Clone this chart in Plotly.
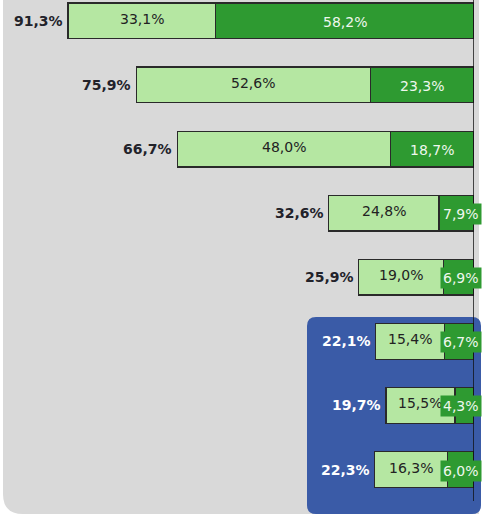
import plotly.graph_objects as go

# Data (top to bottom)
totals = [91.3, 75.9, 66.7, 32.6, 25.9, 22.1, 19.7, 22.3]
light_vals = [33.1, 52.6, 48.0, 24.8, 19.0, 15.4, 15.5, 16.3]
dark_vals = [58.2, 23.3, 18.7, 7.9, 6.9, 6.7, 4.3, 6.0]
highlighted = [False, False, False, False, False, True, True, True]

def fmt(v):
    return f"{v:.1f}".replace(".", ",") + "%"

W, H = 493, 517
PLOT_W = 474
px_per_unit = 406 / 91.3
row0, row_step = 20.8, 64.1

y_pos = list(range(len(totals)))

LIGHT = "#b5e7a2"
DARK = "#2e9a31"
GREY = "#d9d9d9"
BLUE = "#3a5ba7"
FONT = "DejaVu Sans, Verdana, sans-serif"

fig = go.Figure()
fig.add_trace(go.Bar(
    y=y_pos, x=dark_vals, orientation="h",
    marker=dict(color=DARK, line=dict(color="#2a2a2a", width=1.3)),
    width=0.557, hoverinfo="skip", showlegend=False,
))
fig.add_trace(go.Bar(
    y=y_pos, x=light_vals, orientation="h",
    marker=dict(color=LIGHT, line=dict(color="#2a2a2a", width=1.3)),
    width=0.557, hoverinfo="skip", showlegend=False,
))

annotations = []
for i in range(len(totals)):
    tot_col = "#ffffff" if highlighted[i] else "#22222a"
    # total label
    annotations.append(dict(
        x=dark_vals[i] + light_vals[i], y=i, xref="x", yref="y",
        text=f"<b>{fmt(totals[i])}</b>", showarrow=False,
        xanchor="right", yanchor="middle", xshift=-3,
        font=dict(family=FONT, size=14, color=tot_col),
    ))
    # light label
    annotations.append(dict(
        x=dark_vals[i] + light_vals[i] / 2, y=i, xref="x", yref="y",
        text=fmt(light_vals[i]), showarrow=False,
        xanchor="center", yanchor="middle", yshift=2,
        font=dict(family=FONT, size=14, color="#222222"),
    ))
    # dark label
    seg_px = dark_vals[i] * px_per_unit
    if seg_px > 50:
        annotations.append(dict(
            x=dark_vals[i] / 2, y=i, xref="x", yref="y",
            text=fmt(dark_vals[i]), showarrow=False,
            xanchor="center", yanchor="middle", yshift=-1,
            font=dict(family=FONT, size=14, color="#eef7ee"),
        ))
    else:
        annotations.append(dict(
            x=0, y=i, xref="x", yref="y",
            text=fmt(dark_vals[i]), showarrow=False,
            xanchor="right", yanchor="middle", xshift=8, yshift=-1,
            bgcolor=DARK, borderpad=2,
            font=dict(family=FONT, size=14, color="#eef7ee"),
        ))

def px(xp):
    return xp / PLOT_W

def py(yp):
    return 1 - yp / H

def rounded_rect(x0, y0, x1, y1, r, corners=("tl", "tr", "br", "bl")):
    # pixel coords -> paper path
    def P(x, y):
        return f"{px(x):.5f},{py(y):.5f}"
    rtl = r if "tl" in corners else 0
    rtr = r if "tr" in corners else 0
    rbr = r if "br" in corners else 0
    rbl = r if "bl" in corners else 0
    d = f"M {P(x0 + rtl, y0)} L {P(x1 - rtr, y0)} "
    d += f"Q {P(x1, y0)} {P(x1, y0 + rtr)} " if rtr else ""
    d += f"L {P(x1, y1 - rbr)} "
    d += f"Q {P(x1, y1)} {P(x1 - rbr, y1)} " if rbr else ""
    d += f"L {P(x0 + rbl, y1)} "
    d += f"Q {P(x0, y1)} {P(x0, y1 - rbl)} " if rbl else ""
    d += f"L {P(x0, y0 + rtl)} "
    d += f"Q {P(x0, y0)} {P(x0 + rtl, y0)} " if rtl else ""
    d += "Z"
    return d

shapes = [
    dict(type="path", xref="paper", yref="paper",
         path=rounded_rect(3, -5, 479, 514, 20, corners=("bl",)),
         fillcolor=GREY, line=dict(width=0), layer="below"),
    dict(type="path", xref="paper", yref="paper",
         path=rounded_rect(307, 317, 481, 514, 9),
         fillcolor=BLUE, line=dict(width=0), layer="below"),
    dict(type="line", xref="x", yref="paper", x0=0, x1=0,
         y0=1, y1=py(501), line=dict(color="#111111", width=1.5), layer="above"),
]

x_max = PLOT_W / px_per_unit
y_top = -row0 / row_step
y_bot = (H - row0) / row_step

fig.update_layout(
    width=W, height=H,
    margin=dict(l=0, r=W - PLOT_W, t=0, b=0),
    barmode="stack",
    paper_bgcolor="white",
    plot_bgcolor="rgba(0,0,0,0)",
    xaxis=dict(range=[x_max, 0], visible=False, fixedrange=True),
    yaxis=dict(range=[y_bot, y_top], visible=False, fixedrange=True),
    shapes=shapes,
    annotations=annotations,
    font=dict(family=FONT),
)

fig.write_html("out.html", config={"displayModeBar": False})
